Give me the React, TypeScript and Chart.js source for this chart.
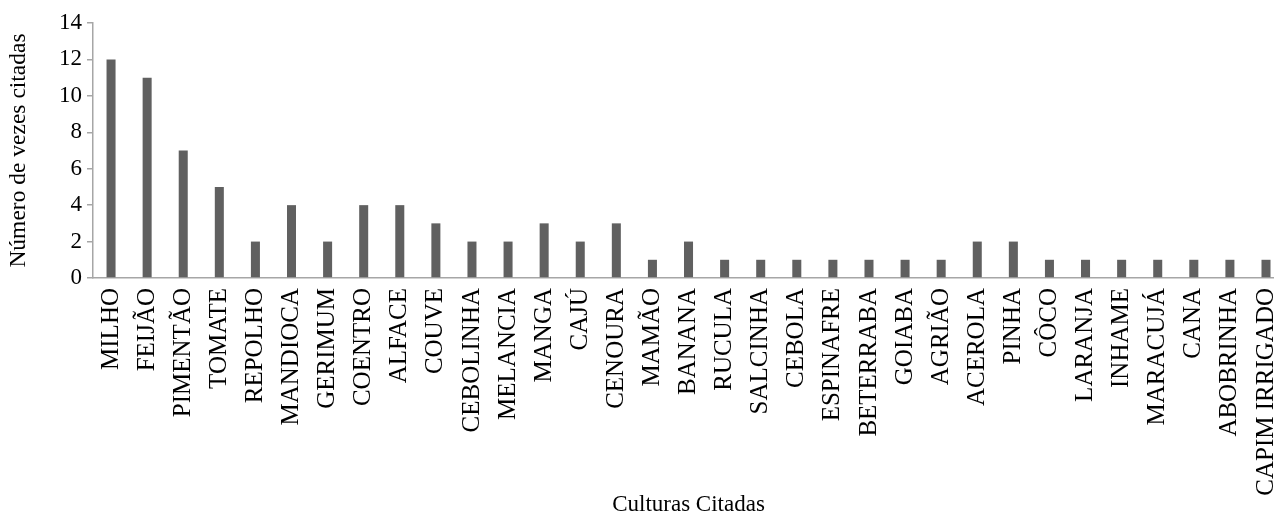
import React, { useEffect, useRef } from "react";
import { Chart, registerables } from "chart.js";

Chart.register(...registerables);

const categories = [
  "MILHO", "FEIJÃO", "PIMENTÃO", "TOMATE", "REPOLHO", "MANDIOCA", "GERIMUM",
  "COENTRO", "ALFACE", "COUVE", "CEBOLINHA", "MELANCIA", "MANGA", "CAJÚ",
  "CENOURA", "MAMÃO", "BANANA", "RUCULA", "SALCINHA", "CEBOLA", "ESPINAFRE",
  "BETERRABA", "GOIABA", "AGRIÃO", "ACEROLA", "PINHA", "CÔCO", "LARANJA",
  "INHAME", "MARACUJÁ", "CANA", "ABOBRINHA", "CAPIM IRRIGADO",
];
const counts = [
  12, 11, 7, 5, 2, 4, 2, 4, 4, 3, 2, 2, 3, 2, 3, 1, 2, 1, 1, 1, 1, 1, 1, 1,
  2, 2, 1, 1, 1, 1, 1, 1, 1,
];
const yTicks = [0, 2, 4, 6, 8, 10, 12, 14];

const FONT = "'Liberation Serif', 'Times New Roman', serif";
const FS = 23;
const FS_X = 25;

export default function App() {
  const ref = useRef<HTMLCanvasElement>(null);
  useEffect(() => {
    if (!ref.current) return;
    const chart = new Chart(ref.current, {
      type: "bar",
      data: {
        labels: categories,
        datasets: [
          {
            data: counts,
            backgroundColor: "#606060",
            borderWidth: 0,
            categoryPercentage: 1,
            barPercentage: 0.25,
          },
        ],
      },
      options: {
        animation: false,
        responsive: false,
        maintainAspectRatio: false,
        layout: { padding: { top: 23, right: 0, left: 0, bottom: 0 } },
        plugins: { legend: { display: false }, tooltip: { enabled: false } },
        scales: {
          x: {
            grid: { display: false, drawTicks: false },
            border: { display: true, color: "#a6a6a6", width: 1.5 },
            ticks: {
              minRotation: 90,
              maxRotation: 90,
              autoSkip: false,
              padding: 10,
              color: "#000",
              font: { family: FONT, size: FS_X },
            },
            title: {
              display: true,
              text: "Culturas Citadas",
              color: "#000",
              font: { family: FONT, size: FS },
              padding: { top: 0, bottom: -3 },
            },
            afterFit: (s: any) => {
              s.height = 238;
            },
          },
          y: {
            min: 0,
            max: 14,
            afterBuildTicks: (s: any) => {
              s.ticks = yTicks.map((v) => ({ value: v }));
            },
            grid: { display: true, drawOnChartArea: false, drawTicks: true, tickLength: 6, color: "#a6a6a6", lineWidth: 1.5 },
            border: { display: true, color: "#a6a6a6", width: 1.5 },
            ticks: {
              padding: 5,
              color: "#000",
              font: { family: FONT, size: FS },
            },
            title: {
              display: true,
              text: "Número de vezes citadas",
              color: "#000",
              font: { family: FONT, size: 23.5 },
              padding: { top: 5, bottom: 0 },
            },
            afterFit: (s: any) => {
              s.width = 93;
            },
          },
        },
      },
    });
    return () => chart.destroy();
  }, []);
  return (
    <div style={{ position: "fixed", left: 0, top: 0, width: 1274, height: 516, overflow: "hidden", background: "#fff" }}>
      <canvas ref={ref} width={1306} height={516} style={{ display: "block", width: 1306, height: 516 }} />
    </div>
  );
}
